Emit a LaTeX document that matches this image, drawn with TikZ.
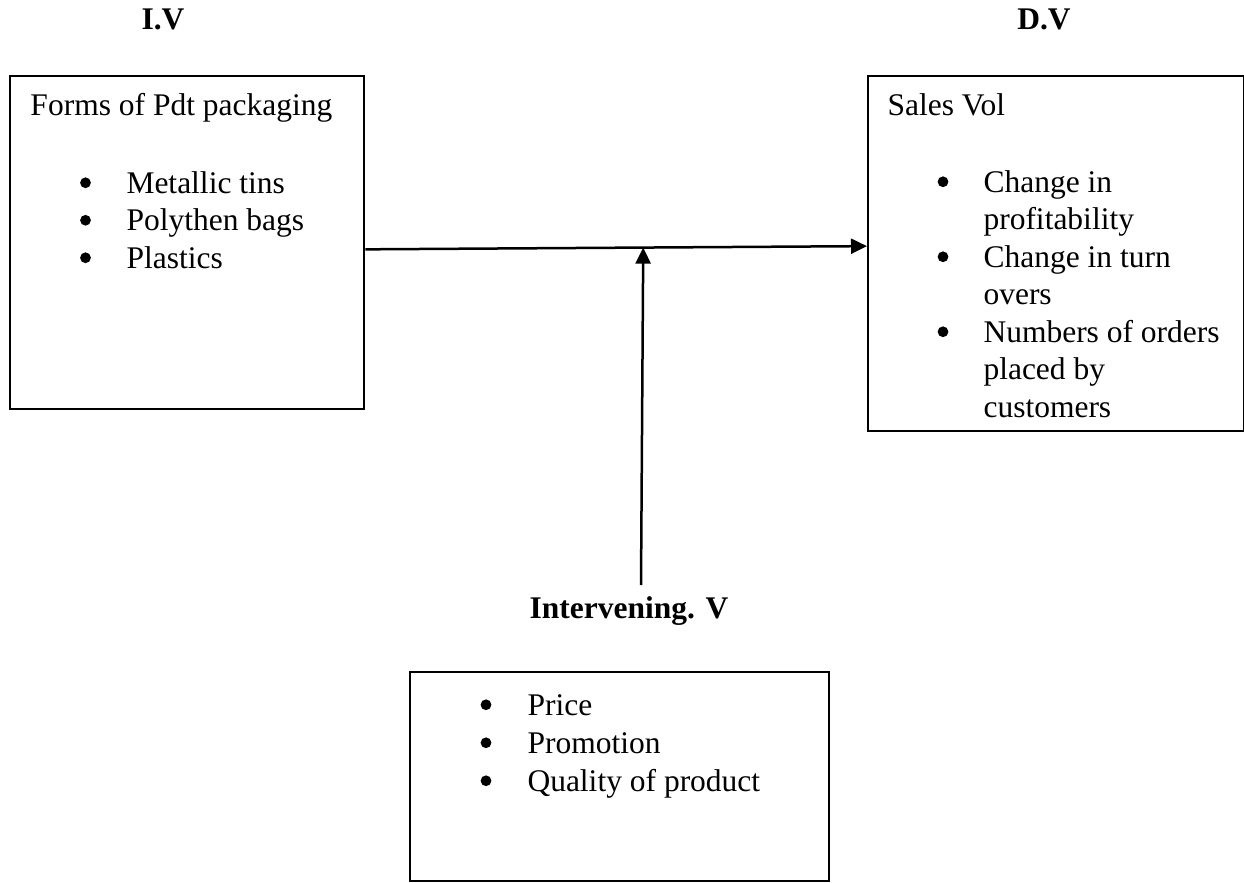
\documentclass[tikz,border=0pt]{standalone}
\usepackage{fontspec}
\setmainfont{Liberation Serif}
\usetikzlibrary{arrows.meta}
\begin{document}
\begin{tikzpicture}[x=0.4pt,y=-0.4pt,
  box/.style={draw, line width=0.9pt, inner sep=0, anchor=north west},
  txt/.style={anchor=base west, inner sep=0, font=\fontsize{12.6}{15}\selectfont},
  bul/.style={circle, fill, inner sep=0, minimum size=4.3pt, yshift=4.1pt},
  hd/.style={anchor=base, inner sep=0, font=\fontsize{12.6}{15}\selectfont\bfseries},
  arr/.style={line width=1pt, -{Triangle[length=6.4pt,width=6pt]}}]
\useasboundingbox (0,0) rectangle (1244,882);
% boxes
\node[box, minimum width=141.6pt, minimum height=133.2pt] (L) at (9,75) {};
\node[box, minimum width=150.2pt, minimum height=142pt] (R) at (867,75) {};
\node[box, minimum width=167.6pt, minimum height=83.6pt] (B) at (409,671) {};
% headings
\node[hd] (iv) at (163,29) {I.V};
\node[hd] (dv) at (1044,29) {D.V};
\node[hd] (int) at (629,618) {Intervening. V};
% left box text
\node[txt] (l0) at (30,115) {Forms of Pdt packaging};
\node[bul] (lb1) at (85.5,193) {};
\node[bul] (lb2) at (85.5,230.5) {};
\node[bul] (lb3) at (85.5,268) {};
\node[txt] (l1) at (126,193) {Metallic tins};
\node[txt] (l2) at (126,230.5) {Polythen bags};
\node[txt] (l3) at (126,268) {Plastics};
% right box text
\node[txt] (r0) at (887,115) {Sales Vol};
\node[bul] (rb1) at (943,192) {};
\node[bul] (rb2) at (943,267) {};
\node[bul] (rb3) at (943,342) {};
\node[txt] (r1) at (983,192) {Change in};
\node[txt] (r2) at (983,229.5) {profitability};
\node[txt] (r3) at (983,267) {Change in turn};
\node[txt] (r4) at (983,304.5) {overs};
\node[txt] (r5) at (983,342) {Numbers of orders};
\node[txt] (r6) at (983,379.5) {placed by};
\node[txt] (r7) at (983,417) {customers};
% bottom box text
\node[bul] (bb1) at (486,715) {};
\node[bul] (bb2) at (486,753) {};
\node[bul] (bb3) at (486,791) {};
\node[txt] (b1) at (527,715) {Price};
\node[txt] (b2) at (527,753) {Promotion};
\node[txt] (b3) at (527,791) {Quality of product};
% connectors
\path (L.north east) -- (L.south east) coordinate[pos=0.52] (a);
\path (R.north west) -- (R.south west) coordinate[pos=0.479] (b);
\draw[arr] (a) -- (b);
\path (a) -- (b) coordinate[pos=0.554] (m);
\coordinate (v) at (641,585);
\draw[arr] (v) -- (m);
\end{tikzpicture}
\end{document}
